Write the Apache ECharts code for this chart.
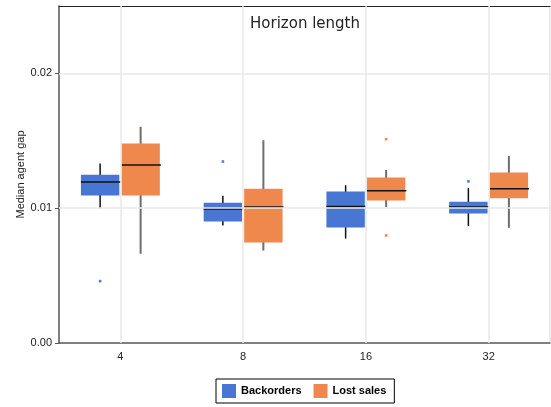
<!DOCTYPE html>
<html>
<head>
<meta charset="utf-8">
<script src="https://cdn.jsdelivr.net/npm/echarts@6/dist/echarts.min.js"></script>
<style>html,body{margin:0;padding:0;background:#fff;}#c{width:551px;height:407px;}</style>
</head>
<body>
<div id="c"></div>
<script>
// Categories (horizon length)
const categories = ['4', '8', '16', '32'];
// Box statistics per category: [min, Q1, median, Q3, max]
const backorders = [
  [0.01000, 0.01095, 0.01195, 0.01249, 0.01331],
  [0.00872, 0.00902, 0.00994, 0.01041, 0.01093],
  [0.00775, 0.00857, 0.01013, 0.01123, 0.01170],
  [0.00868, 0.00961, 0.01009, 0.01048, 0.01150]
];
const lostSales = [
  [0.00662, 0.01095, 0.01321, 0.01480, 0.01604],
  [0.00686, 0.00746, 0.01009, 0.01145, 0.01504],
  [0.01009, 0.01058, 0.01130, 0.01227, 0.01284],
  [0.00855, 0.01073, 0.01145, 0.01264, 0.01388]
];
// Outliers: [category index, value]
const backordersOutliers = [[0, 0.00459], [1, 0.01346], [3, 0.01199]];
const lostSalesOutliers = [[2, 0.01512], [2, 0.00798]];
// Y tick values
const yTicks = [0, 0.01, 0.02];

const BLUE = '#4777d3', ORANGE = '#ee884c';
const FONT = 'Liberation Sans';

function boxRender(dir, color, whiskerColor, whiskerWidth) {
  return function (params, api) {
    const idx = api.value(0);
    const band = api.size([1, 0])[0];
    const cx = api.coord([idx, 0])[0] + dir * band * 0.165;
    const w = band * 0.313;
    const y = (d) => api.coord([idx, api.value(d)])[1];
    const yMin = y(1), yQ1 = y(2), yMed = y(3), yQ3 = y(4), yMax = y(5);
    return {
      type: 'group',
      children: [
        { type: 'line', shape: { x1: cx, y1: yMax, x2: cx, y2: yMin }, style: { stroke: whiskerColor, lineWidth: whiskerWidth } },
        { type: 'rect', shape: { x: cx - w / 2, y: yQ3, width: w, height: yQ1 - yQ3 }, style: { fill: color } },
        { type: 'line', shape: { x1: cx - w / 2, y1: yMed, x2: cx + w / 2 + 1, y2: yMed }, style: { stroke: '#111', lineWidth: 1.5 } }
      ]
    };
  };
}
function outlierRender(dir, color) {
  return function (params, api) {
    const idx = api.value(0);
    const band = api.size([1, 0])[0];
    const p = api.coord([idx, api.value(1)]);
    const cx = p[0] + dir * band * 0.165;
    return { type: 'rect', shape: { x: cx - 1.3, y: p[1] - 1.3, width: 2.6, height: 2.6 }, style: { fill: color } };
  };
}
const toRows = (arr) => arr.map((r, i) => [i].concat(r));

const chart = echarts.init(document.getElementById('c'), null, { renderer: 'canvas' });
chart.setOption({
  animation: false,
  backgroundColor: '#fff',
  title: {
    text: 'Horizon length', left: 300, top: 12, textAlign: 'center',
    textStyle: { fontFamily: 'DejaVu Sans', fontSize: 15, fontWeight: 'normal', color: '#222' }
  },
  legend: {
    data: ['Backorders', 'Lost sales'],
    left: 216, top: 379,
    icon: 'rect', itemWidth: 14, itemHeight: 14, itemGap: 12,
    padding: [5, 8, 5, 6],
    borderColor: '#000', borderWidth: 1,
    textStyle: { fontFamily: FONT, fontSize: 11, fontWeight: 'bold', color: '#000' }
  },
  grid: { left: 59, right: 1, top: 6, bottom: 64 },
  xAxis: [
    {
      type: 'category', data: categories, boundaryGap: true,
      axisLine: { lineStyle: { color: '#555', width: 1.5 } },
      axisTick: { alignWithLabel: true, length: 4, lineStyle: { color: '#555' } },
      axisLabel: { margin: 8, fontFamily: FONT, fontSize: 11, color: '#222' },
      splitLine: { show: false }
    },
    {
      type: 'category', data: categories, position: 'top',
      axisLine: { show: true, onZero: false, lineStyle: { color: '#222', width: 1 } },
      axisTick: { show: false }, axisLabel: { show: false }, splitLine: { show: false }
    }
  ],
  yAxis: [
    {
      type: 'value', min: 0, max: 0.025, interval: 0.01,
      name: 'Median agent gap', nameLocation: 'middle', nameGap: 33, nameMoveOverlap: false,
      nameTextStyle: { fontFamily: FONT, fontSize: 11, color: '#222' },
      axisLine: { show: true, lineStyle: { color: '#555', width: 1.5 } },
      axisTick: { show: true, length: 4, lineStyle: { color: '#555' } },
      axisLabel: { margin: 7, fontFamily: FONT, fontSize: 11, color: '#222', formatter: (v) => v.toFixed(2), showMaxLabel: false },
      splitLine: { show: false }
    },
    {
      type: 'value', min: 0, max: 0.025, position: 'right',
      axisLine: { show: true, onZero: false, lineStyle: { color: '#e6e6e6', width: 1.5 } },
      axisTick: { show: false }, axisLabel: { show: false }, splitLine: { show: false }
    }
  ],
  series: [
    {
      name: 'Backorders', type: 'custom', xAxisIndex: 0, yAxisIndex: 0,
      itemStyle: { color: BLUE },
      encode: { x: 0, y: [1, 2, 3, 4, 5] },
      renderItem: boxRender(-1, BLUE, '#111', 1.5),
      data: toRows(backorders),
      markLine: {
        silent: true, symbol: 'none', label: { show: false }, animation: false,
        lineStyle: { color: '#e8e8e8', type: 'solid', width: 1.5 },
        data: categories.map((c) => ({ xAxis: c })).concat(yTicks.filter((t) => t > 0).map((t) => ({ yAxis: t })))
      }
    },
    {
      name: 'Lost sales', type: 'custom', xAxisIndex: 0, yAxisIndex: 0,
      itemStyle: { color: ORANGE },
      encode: { x: 0, y: [1, 2, 3, 4, 5] },
      renderItem: boxRender(1, ORANGE, '#6e6e6e', 2),
      data: toRows(lostSales)
    },
    {
      name: 'Backorders outliers', type: 'custom', xAxisIndex: 0, yAxisIndex: 0,
      encode: { x: 0, y: 1 },
      renderItem: outlierRender(-1, '#4a7ee0'),
      data: backordersOutliers
    },
    {
      name: 'Lost sales outliers', type: 'custom', xAxisIndex: 0, yAxisIndex: 0,
      encode: { x: 0, y: 1 },
      renderItem: outlierRender(1, ORANGE),
      data: lostSalesOutliers
    }
  ]
});
</script>
</body>
</html>
